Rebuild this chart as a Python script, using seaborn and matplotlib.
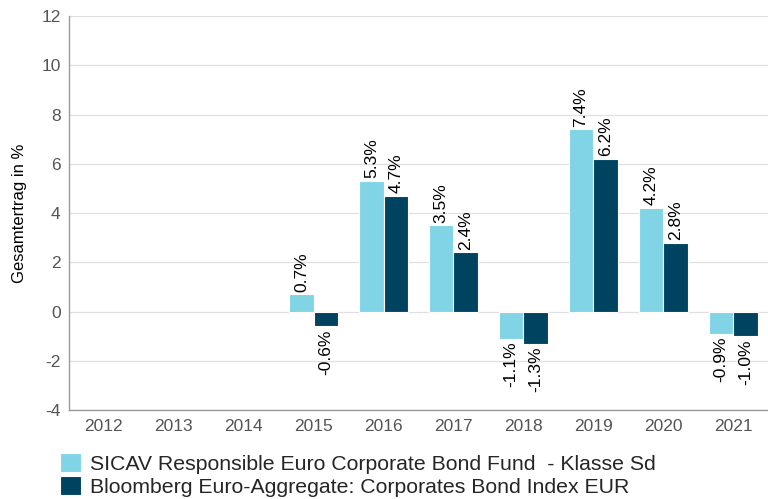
import matplotlib
matplotlib.use("Agg")
import matplotlib.pyplot as plt
import pandas as pd
import seaborn as sns

YEARS = ["2012", "2013", "2014", "2015", "2016", "2017", "2018", "2019", "2020", "2021"]
FUND_NAME = "SICAV Responsible Euro Corporate Bond Fund  - Klasse Sd"
INDEX_NAME = "Bloomberg Euro-Aggregate: Corporates Bond Index EUR"
FUND_VALUES = [None, None, None, 0.7, 5.3, 3.5, -1.1, 7.4, 4.2, -0.9]
INDEX_VALUES = [None, None, None, -0.6, 4.7, 2.4, -1.3, 6.2, 2.8, -1.0]
Y_TICKS = [-4, -2, 0, 2, 4, 6, 8, 10, 12]

COLORS = {FUND_NAME: "#80d4e6", INDEX_NAME: "#004360"}

sns.set_theme(style="white")
plt.rcParams["font.family"] = ["Liberation Sans", "DejaVu Sans"]
plt.rcParams["axes.unicode_minus"] = False

df = pd.DataFrame({
    "year": YEARS * 2,
    "series": [FUND_NAME] * len(YEARS) + [INDEX_NAME] * len(YEARS),
    "value": FUND_VALUES + INDEX_VALUES,
}).dropna()

fig = plt.figure(figsize=(7.68, 4.99), dpi=100)
ax = fig.add_axes([0.0898, 0.178, 0.9102, 0.79])

sns.barplot(data=df, x="year", y="value", hue="series", order=YEARS,
            hue_order=[FUND_NAME, INDEX_NAME], palette=COLORS, width=0.7,
            saturation=1, edgecolor="white", linewidth=0.8, ax=ax)

for container in ax.containers:
    ax.bar_label(container, fmt="{:.1f}%", rotation=90, padding=2,
                 fontsize=12.5, color="black")

ax.set_ylim(-4, 12)
ax.set_xlim(-0.5, len(YEARS) - 0.5)
ax.set_yticks(Y_TICKS)
ax.grid(axis="y", color="#e0e0e0", linewidth=0.9)
ax.set_axisbelow(True)
for side in ["top", "right"]:
    ax.spines[side].set_visible(False)
for side in ["left", "bottom"]:
    ax.spines[side].set_color("#9a9a9a")
    ax.spines[side].set_linewidth(1)
ax.tick_params(axis="both", colors="#555555", labelsize=12.5, length=0, pad=6)
ax.set_xlabel("")
ax.set_ylabel("Gesamtertrag in %", fontsize=12, color="black", labelpad=10)

handles, labels = ax.get_legend_handles_labels()
ax.legend(handles, labels, loc="upper left", bbox_to_anchor=(-0.0245, -0.088),
          frameon=False, fontsize=15.3, handlelength=0.95, handleheight=0.95,
          handletextpad=0.45, labelspacing=0.12, borderaxespad=0)

fig.savefig("out.png", dpi=100)
